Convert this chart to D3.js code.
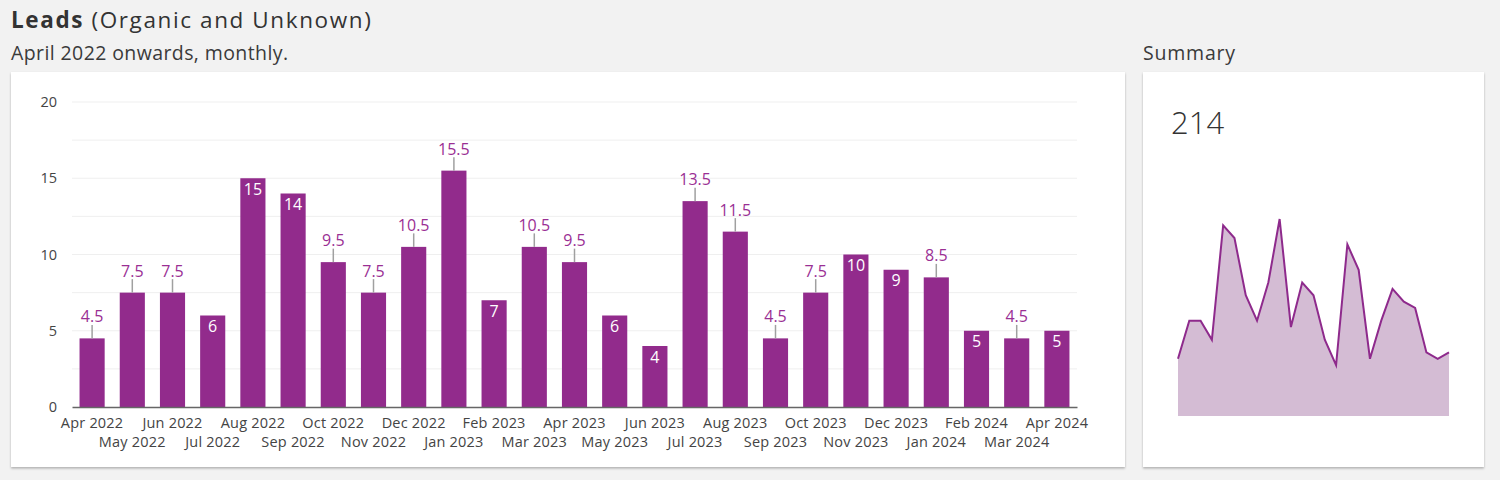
<!DOCTYPE html>
<html>
<head>
<meta charset="utf-8">
<script src="https://cdn.jsdelivr.net/npm/d3@7"></script>
<style>
  html, body { margin: 0; padding: 0; background: #f2f2f2; }
  svg { display: block; font-family: "Open Sans", sans-serif; }
</style>
</head>
<body>
<svg id="chart" width="1500" height="480"></svg>
<script>
const months = ["Apr 2022","May 2022","Jun 2022","Jul 2022","Aug 2022","Sep 2022","Oct 2022","Nov 2022","Dec 2022","Jan 2023","Feb 2023","Mar 2023","Apr 2023","May 2023","Jun 2023","Jul 2023","Aug 2023","Sep 2023","Oct 2023","Nov 2023","Dec 2023","Jan 2024","Feb 2024","Mar 2024","Apr 2024"];
const leads = [4.5, 7.5, 7.5, 6, 15, 14, 9.5, 7.5, 10.5, 15.5, 7, 10.5, 9.5, 6, 4, 13.5, 11.5, 4.5, 7.5, 10, 9, 8.5, 5, 4.5, 5];
const yTicks = [0, 5, 10, 15, 20];
const gridTicks = [0, 2.5, 5, 7.5, 10, 12.5, 15, 17.5, 20];
const titleBold = "Leads";
const titleRest = " (Organic and Unknown)";
const subtitle = "April 2022 onwards, monthly.";
const summaryTitle = "Summary";

const purple = "#922b8c";
const svg = d3.select("#chart");

// shadow
const defs = svg.append("defs");
const f = defs.append("filter").attr("id", "shadow").attr("x", "-5%").attr("y", "-5%").attr("width", "110%").attr("height", "115%");
f.append("feDropShadow").attr("dx", 0).attr("dy", 1.5).attr("stdDeviation", 1.2).attr("flood-color", "#000").attr("flood-opacity", 0.28);

// titles
const t = svg.append("text").attr("x", 11).attr("y", 28).attr("fill", "#333").attr("font-size", 22.5).attr("letter-spacing", 1.6);
t.append("tspan").attr("font-weight", 700).text(titleBold);
t.append("tspan").attr("font-weight", 400).text(titleRest);
svg.append("text").attr("x", 11).attr("y", 60).attr("fill", "#3a3a3a").attr("font-size", 19.5).attr("letter-spacing", 0.4).text(subtitle);
svg.append("text").attr("x", 1143).attr("y", 60).attr("fill", "#3a3a3a").attr("font-size", 19.5).attr("letter-spacing", 0.8).text(summaryTitle);

// cards
svg.append("rect").attr("x", 11).attr("y", 72).attr("width", 1114).attr("height", 395).attr("fill", "#fff").attr("filter", "url(#shadow)");
svg.append("rect").attr("x", 1143).attr("y", 72).attr("width", 341).attr("height", 395).attr("fill", "#fff").attr("filter", "url(#shadow)");

// scales
const x = d3.scaleBand().domain(months).range([72, 1077]).paddingInner(0.375).paddingOuter(0.1875);
const y = d3.scaleLinear().domain([0, 20]).range([407, 102]);

// grid
svg.append("g").selectAll("line").data(gridTicks.filter(d => d > 0)).join("line")
  .attr("x1", 72).attr("x2", 1077).attr("y1", d => y(d)).attr("y2", d => y(d))
  .attr("stroke", "#efefef").attr("stroke-width", 1);

// y axis
const yAxis = svg.append("g").attr("transform", "translate(72,0)")
  .call(d3.axisLeft(y).tickValues(yTicks).tickSize(0).tickPadding(15));
yAxis.select(".domain").remove();
yAxis.selectAll("text").attr("font-size", 14.5).attr("fill", "#444").attr("font-family", "Open Sans");

// bars
svg.append("g").selectAll("rect").data(leads).join("rect")
  .attr("x", (d, i) => x(months[i])).attr("width", x.bandwidth())
  .attr("y", d => y(d)).attr("height", d => y(0) - y(d))
  .attr("fill", purple);

// x axis
const xAxis = svg.append("g").attr("transform", "translate(0,407)")
  .call(d3.axisBottom(x).tickSize(0).tickPadding(0));
xAxis.select(".domain").attr("stroke", "#666").attr("stroke-width", 1.5);
xAxis.selectAll("text").attr("font-size", 14.5).attr("fill", "#444").attr("font-family", "Open Sans")
  .attr("letter-spacing", 0.2)
  .attr("dy", null).attr("y", (d, i) => i % 2 === 0 ? 21 : 40);

// value labels
const lab = svg.append("g");
leads.forEach((v, i) => {
  const cx = x(months[i]) + x.bandwidth() / 2;
  const top = y(v);
  const inside = Number.isInteger(v);
  if (inside) {
    lab.append("text").attr("x", cx).attr("y", top + 16.5).attr("text-anchor", "middle")
      .attr("font-size", 16).attr("fill", "#fff").text(v);
  } else {
    lab.append("line").attr("x1", cx).attr("x2", cx).attr("y1", top - 13.5).attr("y2", top)
      .attr("stroke", "#a0a0a0").attr("stroke-width", 1.5);
    lab.append("text").attr("x", cx).attr("y", top - 16).attr("text-anchor", "middle")
      .attr("font-size", 16).attr("fill", "#9a2f94").text(v);
  }
});

// summary
const total = d3.sum(leads);
svg.append("text").attr("x", 1171).attr("y", 134).attr("font-size", 31).attr("font-weight", 300)
  .attr("fill", "#333").text(d3.format(".0f")(total));

const sx = d3.scalePoint().domain(d3.range(leads.length)).range([1178, 1449]);
const sy = d3.scaleLinear().domain([0, d3.max(leads)]).range([416, 219]);
svg.append("path").datum(leads)
  .attr("d", d3.area().x((d, i) => sx(i)).y0(sy(0)).y1(d => sy(d)))
  .attr("fill", "#d4bcd4");
svg.append("path").datum(leads)
  .attr("d", d3.line().x((d, i) => sx(i)).y(d => sy(d)))
  .attr("fill", "none").attr("stroke", "#8e2a8c").attr("stroke-width", 2).attr("stroke-linejoin", "miter");
</script>
</body>
</html>
